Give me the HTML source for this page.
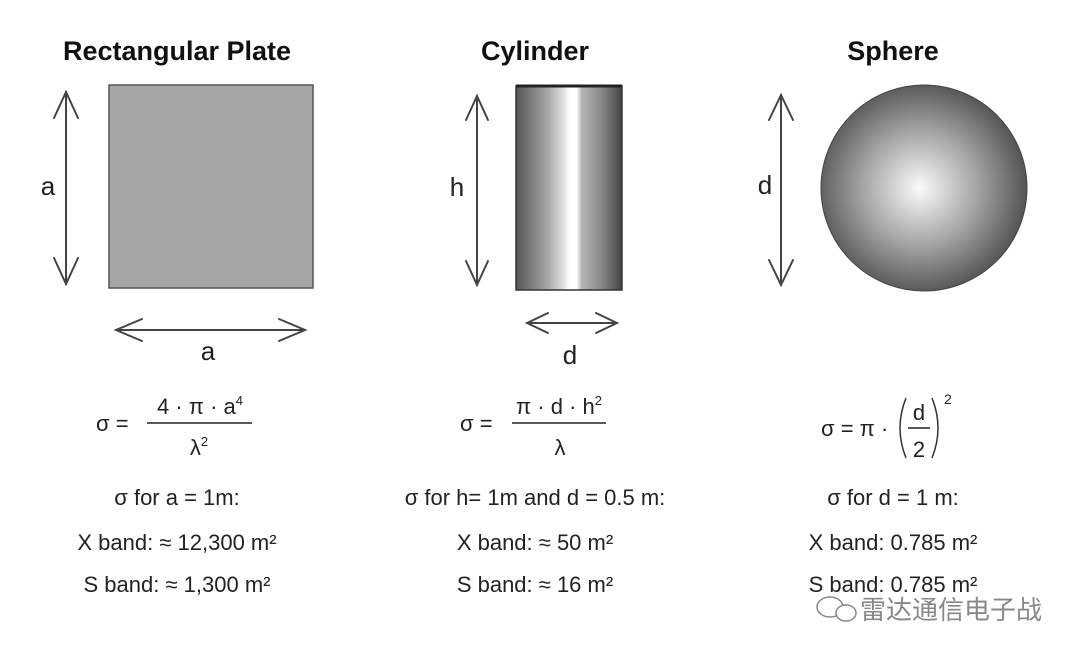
<!DOCTYPE html>
<html><head><meta charset="utf-8">
<style>
html,body{margin:0;padding:0;background:#fff;}
svg{display:block;font-family:"Liberation Sans","Noto Sans CJK SC",sans-serif;}
</style></head>
<body>
<svg width="1080" height="658" viewBox="0 0 1080 658">
<defs>
<linearGradient id="cyl" x1="0" x2="1" y1="0" y2="0">
<stop offset="0" stop-color="#555"/>
<stop offset="0.3" stop-color="#a8a8a8"/>
<stop offset="0.45" stop-color="#e0e0e0"/>
<stop offset="0.5" stop-color="#fff"/>
<stop offset="0.57" stop-color="#fff"/>
<stop offset="0.62" stop-color="#b5b5b5"/>
<stop offset="0.8" stop-color="#8a8a8a"/>
<stop offset="1" stop-color="#444"/>
</linearGradient>
<radialGradient id="sph" cx="0.48" cy="0.5" r="0.55">
<stop offset="0" stop-color="#fafafa"/>
<stop offset="0.5" stop-color="#a5a5a5"/>
<stop offset="1" stop-color="#4a4a4a"/>
</radialGradient>
</defs>
<g fill="#111" font-weight="bold" font-size="27" text-anchor="middle">
<text x="177" y="60">Rectangular Plate</text>
<text x="535" y="60">Cylinder</text>
<text x="893" y="60">Sphere</text>
</g>
<rect x="109" y="85" width="204" height="203" fill="#a6a6a6" stroke="#555" stroke-width="1.5"/>
<rect x="516" y="86" width="106" height="204" fill="url(#cyl)" stroke="#333" stroke-width="1.5"/>
<line x1="516" y1="86" x2="622" y2="86" stroke="#222" stroke-width="3"/>
<circle cx="924" cy="188" r="103" fill="url(#sph)" stroke="#444" stroke-width="1"/>
<g fill="none" stroke="#444" stroke-width="2" stroke-linecap="round">
<g><line x1="66" y1="92" x2="66" y2="284"/><polyline points="54,118 66,92 78,118"/><polyline points="54,258 66,284 78,258"/></g>
<g><line x1="116" y1="330" x2="305" y2="330"/><polyline points="142,319 116,330 142,341"/><polyline points="279,319 305,330 279,341"/></g>
<g><line x1="477" y1="96" x2="477" y2="285"/><polyline points="466,120 477,96 488,120"/><polyline points="466,261 477,285 488,261"/></g>
<g><line x1="527" y1="323" x2="617" y2="323"/><polyline points="548,313 527,323 548,333"/><polyline points="596,313 617,323 596,333"/></g>
<g><line x1="781" y1="95" x2="781" y2="285"/><polyline points="769,120 781,95 793,120"/><polyline points="769,260 781,285 793,260"/></g>
</g>
<g fill="#222" font-size="26" text-anchor="middle">
<text x="48" y="195">a</text>
<text x="208" y="360">a</text>
<text x="457" y="196">h</text>
<text x="570" y="364">d</text>
<text x="765" y="194">d</text>
</g>
<g fill="#222" font-size="22">
<text x="96" y="431">σ =</text>
<text x="200" y="414" text-anchor="middle">4 · π · a<tspan font-size="13" dy="-9">4</tspan></text>
<line x1="147" y1="423" x2="252" y2="423" stroke="#222" stroke-width="1.5"/>
<text x="199" y="455" text-anchor="middle">λ<tspan font-size="13" dy="-9">2</tspan></text>
</g>
<g fill="#222" font-size="22">
<text x="460" y="431">σ =</text>
<text x="559" y="414" text-anchor="middle">π · d · h<tspan font-size="13" dy="-9">2</tspan></text>
<line x1="512" y1="423" x2="606" y2="423" stroke="#222" stroke-width="1.5"/>
<text x="560" y="455" text-anchor="middle">λ</text>
</g>
<g fill="#222" font-size="22">
<text x="821" y="436">σ = π ·</text>
<path d="M906,398 Q894,428 906,458" fill="none" stroke="#333" stroke-width="1.5"/>
<path d="M932,398 Q944,428 932,458" fill="none" stroke="#333" stroke-width="1.5"/>
<text x="919" y="420" text-anchor="middle">d</text>
<line x1="908" y1="428" x2="930" y2="428" stroke="#222" stroke-width="1.5"/>
<text x="919" y="457" text-anchor="middle">2</text>
<text x="944" y="404" font-size="14">2</text>
</g>
<g fill="#222" font-size="22" text-anchor="middle">
<text x="177" y="505">σ for a = 1m:</text>
<text x="177" y="550">X band: ≈ 12,300 m²</text>
<text x="177" y="592">S band: ≈ 1,300 m²</text>
<text x="535" y="505">σ for h= 1m and d = 0.5 m:</text>
<text x="535" y="550">X band: ≈ 50 m²</text>
<text x="535" y="592">S band: ≈ 16 m²</text>
<text x="893" y="505">σ for d = 1 m:</text>
<text x="893" y="550">X band: 0.785 m²</text>
<text x="893" y="592">S band: 0.785 m²</text>
</g>
<g>
<ellipse cx="830" cy="607" rx="13" ry="10" fill="none" stroke="#888" stroke-width="1.5"/>
<ellipse cx="846" cy="613" rx="10" ry="8" fill="#fff" stroke="#888" stroke-width="1.5"/>
<text x="860" y="619" font-size="26" fill="#888">雷达通信电子战</text>
</g>
</svg>
</body></html>
